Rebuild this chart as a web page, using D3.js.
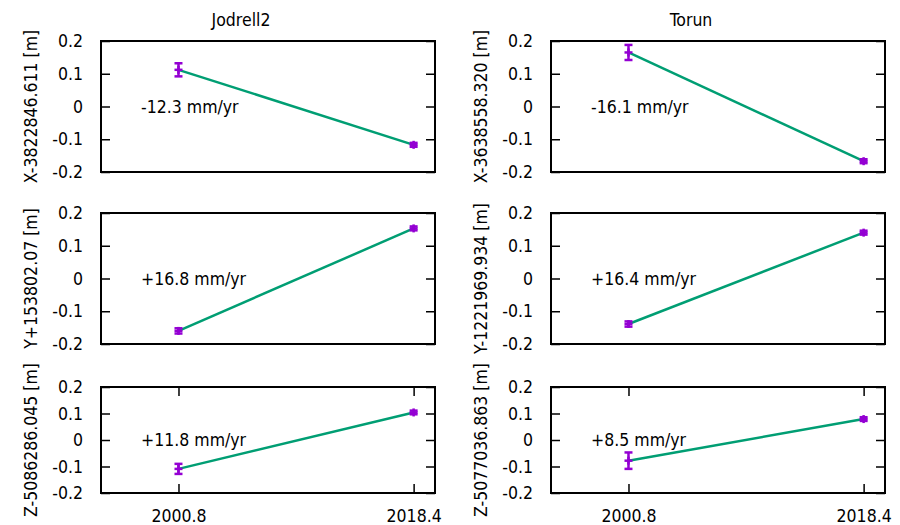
<!DOCTYPE html>
<html>
<head>
<meta charset="utf-8">
<script src="https://cdn.jsdelivr.net/npm/d3@7"></script>
<style>
	body { margin: 0; background: #fff; }
	svg { display: block; }
	text { font-family: 'DejaVu Sans Condensed', 'DejaVu Sans', sans-serif; font-stretch: condensed; fill: #000; }
</style>
</head>
<body>
<svg width="900" height="525"></svg>
<script>

//Chart data
const stations = ["Jodrell2", "Torun"];
const epochs = [2000.8, 2018.4];
const yTicks = [-0.2, -0.1, 0, 0.1, 0.2];
const xTicks = [2000.8, 2018.4];

const jodrellLabels = ["X-3822846.611 [m]", "Y+153802.07 [m]", "Z-5086286.045 [m]"];
const torunLabels = ["X-3638558.320 [m]", "Y-1221969.934 [m]", "Z-5077036.863 [m]"];

const jodrellRates = ["-12.3 mm/yr", "+16.8 mm/yr", "+11.8 mm/yr"];
const torunRates = ["-16.1 mm/yr", "+16.4 mm/yr", "+8.5 mm/yr"];

//offsets in m at each epoch, for X, Y, Z
const jodrellValues = [[0.112, -0.117], [-0.160, 0.153], [-0.109, 0.104]];
const jodrellErrors = [[0.020, 0.006], [0.008, 0.006], [0.019, 0.007]];
const torunValues = [[0.165, -0.167], [-0.139, 0.140], [-0.078, 0.079]];
const torunErrors = [[0.023, 0.006], [0.008, 0.006], [0.031, 0.007]];

const labelPos = [1998, 0];	//where the rate text sits, in data coords

//Layout
const colLeft = [101, 551];
const plotW = 334;
const rowTop = [41, 213, 387];
const rowBottom = [172, 344, 493];
const tick = 9;
const fontSize = 17.5;

const svg = d3.select('svg');

const labels = [jodrellLabels, torunLabels];
const rates = [jodrellRates, torunRates];
const values = [jodrellValues, torunValues];
const errors = [jodrellErrors, torunErrors];

stations.forEach(function(name, c) {
	const x = d3.scaleLinear().domain([1995, 2020]).range([colLeft[c], colLeft[c] + plotW]);

	//Station title, centred over the whole panel (gnuplot style)
	svg.append('text')
		.attr('x', colLeft[c] + plotW / 2 - 27)
		.attr('y', 20)
		.attr('text-anchor', 'middle')
		.attr('dominant-baseline', 'central')
		.style('font-size', fontSize + 'px')
		.text(name);

	for (let r = 0; r < 3; r++) {
		const y = d3.scaleLinear().domain([-0.2, 0.2]).range([rowBottom[r], rowTop[r]]);
		const g = svg.append('g');
		const fmt = d => d === 0 ? "0" : String(d);

		//left axis with labels, ticks drawn inside
		g.append('g')
			.attr('transform', 'translate(' + x.range()[0] + ',0)')
			.call(d3.axisLeft(y).tickValues(yTicks).tickFormat(fmt).tickSizeInner(-tick).tickSizeOuter(0).tickPadding(tick + 9));
		//mirrored ticks on the right
		g.append('g')
			.attr('transform', 'translate(' + x.range()[1] + ',0)')
			.call(d3.axisRight(y).tickValues(yTicks).tickFormat('').tickSizeInner(-tick).tickSizeOuter(0));

		//only the bottom row has x ticks
		if (r === 2) {
			g.append('g')
				.attr('transform', 'translate(0,' + rowBottom[r] + ')')
				.call(d3.axisBottom(x).tickValues(xTicks).tickFormat(d => d.toFixed(1)).tickSizeInner(-tick).tickSizeOuter(0).tickPadding(tick + 8));
			g.append('g')
				.attr('transform', 'translate(0,' + rowTop[r] + ')')
				.call(d3.axisTop(x).tickValues(xTicks).tickFormat('').tickSizeInner(-tick).tickSizeOuter(0));
		}

		g.selectAll('.domain').remove();
		g.selectAll('.tick line').attr('stroke', '#000').attr('stroke-width', 1.5);
		g.selectAll('.tick text')
			.style('font-family', "'DejaVu Sans Condensed', 'DejaVu Sans', sans-serif")
			.style('font-stretch', 'condensed')
			.style('font-size', fontSize + 'px')
			.attr('fill', '#000');

		//frame
		g.append('rect')
			.attr('x', x.range()[0])
			.attr('y', rowTop[r])
			.attr('width', plotW)
			.attr('height', rowBottom[r] - rowTop[r])
			.attr('fill', 'none')
			.attr('stroke', '#000')
			.attr('stroke-width', 2);

		//y axis title
		g.append('text')
			.attr('transform', 'translate(' + (colLeft[c] - 70) + ',' + (rowTop[r] + rowBottom[r]) / 2 + ') rotate(-90)')
			.attr('text-anchor', 'middle')
			.attr('dominant-baseline', 'central')
			.style('font-size', fontSize + 'px')
			.text(labels[c][r]);

		const pts = epochs.map((e, i) => ({ t: e, v: values[c][r][i], err: errors[c][r][i] }));

		//fit line
		g.append('path')
			.datum(pts)
			.attr('d', d3.line().x(d => x(d.t)).y(d => y(d.v)))
			.attr('fill', 'none')
			.attr('stroke', '#009e73')
			.attr('stroke-width', 2.5);

		//error bars with caps and + markers
		const eb = g.selectAll('.eb').data(pts).enter().append('g').attr('class', 'eb')
			.attr('stroke', '#9400d3')
			.attr('stroke-width', 2.5)
			.attr('fill', 'none');
		eb.append('line')
			.attr('x1', d => x(d.t)).attr('x2', d => x(d.t))
			.attr('y1', d => y(d.v - d.err)).attr('y2', d => y(d.v + d.err));
		eb.append('line')
			.attr('x1', d => x(d.t) - 4).attr('x2', d => x(d.t) + 4)
			.attr('y1', d => y(d.v - d.err)).attr('y2', d => y(d.v - d.err));
		eb.append('line')
			.attr('x1', d => x(d.t) - 4).attr('x2', d => x(d.t) + 4)
			.attr('y1', d => y(d.v + d.err)).attr('y2', d => y(d.v + d.err));
		//point marker (+)
		eb.append('line')
			.attr('x1', d => x(d.t) - 4).attr('x2', d => x(d.t) + 4)
			.attr('y1', d => y(d.v)).attr('y2', d => y(d.v));
		eb.append('line')
			.attr('x1', d => x(d.t)).attr('x2', d => x(d.t))
			.attr('y1', d => y(d.v) - 4).attr('y2', d => y(d.v) + 4);

		//rate label
		g.append('text')
			.attr('x', x(labelPos[0]))
			.attr('y', y(labelPos[1]))
			.attr('dominant-baseline', 'central')
			.style('font-size', fontSize + 'px')
			.text(rates[c][r]);
	}
});

</script>
</body>
</html>
